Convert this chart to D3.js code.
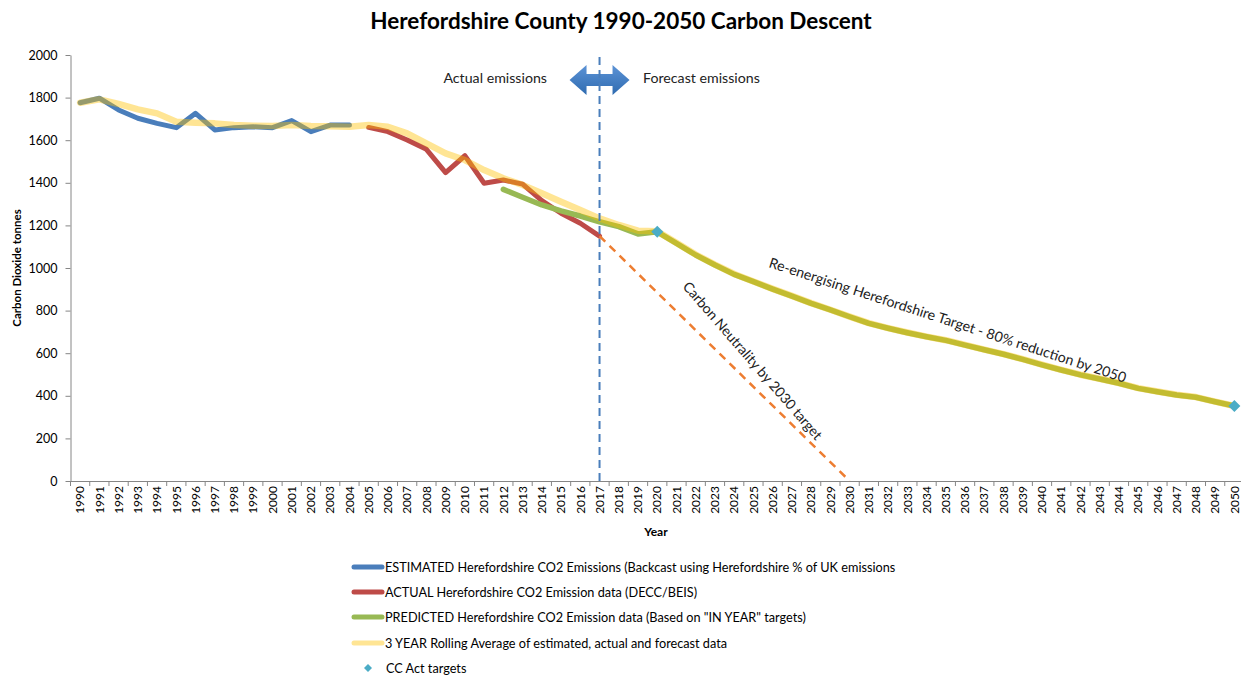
<!DOCTYPE html>
<html>
<head>
<meta charset="utf-8">
<script src="https://cdn.jsdelivr.net/npm/d3@7"></script>
<style>
  body { margin: 0; background: #fff; }
  svg { display: block; font-family: Lato, "Open Sans", sans-serif; }
  .axis path, .axis line { stroke: #868686; }
  .axis text { fill: #000; font-size: 12px; font-family: Lato, sans-serif; }
</style>
</head>
<body>
<div id="chart"></div>
<script>
// categories
const years = [
    1990, 1991, 1992, 1993, 1994, 1995, 1996, 1997, 1998, 1999,
    2000, 2001, 2002, 2003, 2004, 2005, 2006, 2007, 2008, 2009,
    2010, 2011, 2012, 2013, 2014, 2015, 2016, 2017, 2018, 2019,
    2020, 2021, 2022, 2023, 2024, 2025, 2026, 2027, 2028, 2029,
    2030, 2031, 2032, 2033, 2034, 2035, 2036, 2037, 2038, 2039,
    2040, 2041, 2042, 2043, 2044, 2045, 2046, 2047, 2048, 2049, 2050,
];
const yTicks = [0, 200, 400, 600, 800, 1000, 1200, 1400, 1600, 1800, 2000];

// ESTIMATED (backcast) 1990-2004
const estimatedStart = 1990;
const estimated = [1776, 1797, 1742, 1703, 1679, 1659, 1726, 1648, 1659, 1663, 1659, 1692, 1640, 1671, 1671];

// ACTUAL (DECC/BEIS) 2005-2017
const actualStart = 2005;
const actual = [1660, 1640, 1601, 1557, 1448, 1527, 1398, 1413, 1394, 1316, 1257, 1210, 1150];

// PREDICTED 2012-2050
const predictedStart = 2012;
const predicted = [
    1369, 1332, 1296, 1268, 1244, 1217, 1194, 1160,
    1170, 1116, 1061, 1014, 970, 936, 901, 868, 834, 803,
    771, 740, 717, 696, 677, 660, 638, 616, 595, 571,
    545, 521, 498, 479, 459, 435, 419, 404, 393, 372, 352,
];

// 3 YEAR rolling average 1990-2050
const rollingStart = 1990;
const rolling = [
    1776, 1792, 1770, 1745, 1726, 1687, 1682, 1679, 1671, 1668,
    1667, 1671, 1667, 1665, 1663, 1671, 1663, 1632, 1585, 1538,
    1507, 1460, 1421, 1390, 1351, 1311, 1272, 1233, 1202, 1175,
    1172, 1118, 1063, 1016, 972, 937, 902, 869, 835, 804,
    772, 741, 718, 697, 678, 661, 639, 617, 596, 572,
    546, 522, 499, 480, 460, 436, 420, 405, 394, 373, 352,
];

// CC Act targets
const targetYears = [2020, 2050];
const targetValues = [1170, 352];

// Carbon neutrality by 2030
const neutralYears = [2017, 2030];
const neutralValues = [1150, 0];

const forecastSplitYear = 2017;

const legendItems = [
    { label: 'ESTIMATED Herefordshire CO2 Emissions (Backcast using Herefordshire % of UK emissions', color: '#4A7EBB', type: 'line', opacity: 1 },
    { label: 'ACTUAL Herefordshire CO2 Emission data (DECC/BEIS)', color: '#BE4B48', type: 'line', opacity: 1 },
    { label: 'PREDICTED Herefordshire CO2 Emission data (Based on "IN YEAR" targets)', color: '#98B954', type: 'line', opacity: 1 },
    { label: '3 YEAR Rolling Average of estimated, actual and forecast data', color: '#FFC000', type: 'line', opacity: 0.42 },
    { label: 'CC Act targets', color: '#4BACC6', type: 'diamond', opacity: 1 },
];

const W = 1241, H = 675;
const svg = d3.select('#chart').append('svg').attr('width', W).attr('height', H);

const x = d3.scaleBand().domain(years).range([70.5, 1244]).padding(0);
const cx = d => x(d) + x.bandwidth() / 2;
const y = d3.scaleLinear().domain([0, 2000]).range([481, 55]);

function toPoints(start, values) {
    return values.map((v, i) => ({ year: start + i, value: v }));
}

// square diamond marker
function diamondPath(r) {
    return `M0,${-r} L${r},0 L0,${r} L${-r},0 Z`;
}

// title
svg.append('text')
    .attr('x', 621).attr('y', 29)
    .attr('text-anchor', 'middle')
    .style('font-size', '22.5px').style('font-weight', 'bold')
    .text('Herefordshire County 1990-2050 Carbon Descent');

// y axis
const yAxis = svg.append('g').attr('class', 'axis')
    .attr('transform', 'translate(70.5,0)')
    .call(d3.axisLeft(y).tickValues(yTicks).tickFormat(d3.format('d'))
        .tickSizeInner(5).tickSizeOuter(0).tickPadding(8));
yAxis.selectAll('text').style('font-size', '12.5px');

svg.append('text')
    .attr('transform', 'translate(21,268) rotate(-90)')
    .attr('text-anchor', 'middle')
    .style('font-size', '11.5px').style('font-weight', 'bold')
    .text('Carbon Dioxide tonnes');

// x axis
const xAxis = svg.append('g').attr('class', 'axis')
    .attr('transform', 'translate(0,481)')
    .call(d3.axisBottom(x).tickSizeInner(0).tickSizeOuter(0));
xAxis.selectAll('.tick text')
    .attr('transform', 'rotate(-90)')
    .attr('x', -5).attr('y', 0).attr('dy', '0.35em')
    .attr('text-anchor', 'end')
    .style('font-size', '12px');
xAxis.selectAll('line.edge')
    .data(years.concat(['end']))
    .enter().append('line')
    .attr('class', 'edge')
    .attr('x1', d => d === 'end' ? x.range()[1] : x(d))
    .attr('x2', d => d === 'end' ? x.range()[1] : x(d))
    .attr('y1', 0).attr('y2', 5)
    .attr('stroke', '#868686');

svg.append('text')
    .attr('x', 656).attr('y', 536)
    .attr('text-anchor', 'middle')
    .style('font-size', '12px').style('font-weight', 'bold')
    .text('Year');

// series
const line = d3.line().x(d => cx(d.year)).y(d => y(d.value));
const plot = svg.append('g');

function drawSeries(data, color, width, opacity) {
    plot.append('path')
        .datum(data)
        .attr('d', line)
        .attr('fill', 'none')
        .attr('stroke', color)
        .attr('stroke-width', width)
        .attr('stroke-opacity', opacity)
        .attr('stroke-linejoin', 'round')
        .attr('stroke-linecap', 'round');
}

drawSeries(toPoints(estimatedStart, estimated), '#4A7EBB', 5, 1);
drawSeries(toPoints(actualStart, actual), '#BE4B48', 5, 1);
drawSeries(toPoints(predictedStart, predicted), '#98B954', 5.5, 1);
drawSeries(toPoints(rollingStart, rolling), '#FFC000', 6.5, 0.42);

// carbon neutrality dashed line
plot.append('path')
    .datum(neutralYears.map((yr, i) => ({ year: yr, value: neutralValues[i] })))
    .attr('d', line)
    .attr('fill', 'none')
    .attr('stroke', '#ED7D31')
    .attr('stroke-width', 2.5)
    .attr('stroke-dasharray', '8,6');

// arrow between actual and forecast
const ax = cx(forecastSplitYear), ay = 80;
const grad = svg.append('defs').append('linearGradient')
    .attr('id', 'arrowGrad').attr('x1', 0).attr('y1', 0).attr('x2', 0).attr('y2', 1);
grad.append('stop').attr('offset', '0%').attr('stop-color', '#5C93D6');
grad.append('stop').attr('offset', '100%').attr('stop-color', '#2F6BB0');
const half = 30, head = 17, bodyH = 6, headH = 15;
svg.append('path')
    .attr('d', `M${ax - half},${ay} L${ax - half + head},${ay - headH} L${ax - half + head},${ay - bodyH}
        L${ax + half - head},${ay - bodyH} L${ax + half - head},${ay - headH} L${ax + half},${ay}
        L${ax + half - head},${ay + headH} L${ax + half - head},${ay + bodyH}
        L${ax - half + head},${ay + bodyH} L${ax - half + head},${ay + headH} Z`)
    .attr('fill', 'url(#arrowGrad)');

// vertical split line
svg.append('line')
    .attr('x1', ax).attr('x2', ax)
    .attr('y1', 57).attr('y2', 481)
    .attr('stroke', '#4A7EBB')
    .attr('stroke-width', 2)
    .attr('stroke-dasharray', '8,5');

svg.append('text')
    .attr('x', 547).attr('y', 83)
    .attr('text-anchor', 'end')
    .style('font-size', '14.2px').style('fill', '#222')
    .text('Actual emissions');
svg.append('text')
    .attr('x', 643).attr('y', 83)
    .style('font-size', '14.2px').style('fill', '#222')
    .text('Forecast emissions');

// CC Act target diamonds
plot.selectAll('path.target')
    .data(targetYears.map((yr, i) => ({ year: yr, value: targetValues[i] })))
    .enter().append('path')
    .attr('class', 'target')
    .attr('d', diamondPath(6))
    .attr('transform', d => `translate(${cx(d.year)},${y(d.value)})`)
    .attr('fill', '#4BACC6');

// annotations
svg.append('text')
    .attr('transform', 'translate(768,267) rotate(18)')
    .style('font-size', '14.2px').style('fill', '#222')
    .text('Re-energising Herefordshire Target - 80% reduction by 2050');
svg.append('text')
    .attr('transform', 'translate(682,287) rotate(49)')
    .style('font-size', '14px').style('fill', '#222')
    .text('Carbon Neutrality by 2030 target');

// legend
const legend = svg.append('g');
const rowY = [567, 592, 617, 643, 668];
legendItems.forEach((item, i) => {
    const g = legend.append('g').attr('transform', `translate(0,${rowY[i]})`);
    if (item.type === 'line') {
        g.append('line')
            .attr('x1', 354).attr('x2', 382).attr('y1', 0).attr('y2', 0)
            .attr('stroke', item.color)
            .attr('stroke-opacity', item.opacity)
            .attr('stroke-width', 5)
            .attr('stroke-linecap', 'round');
        g.append('text').attr('x', 385).attr('y', 4.5)
            .style('font-size', '12.7px').text(item.label);
    } else {
        g.append('path')
            .attr('d', diamondPath(4))
            .attr('transform', 'translate(368,0)')
            .attr('fill', item.color);
        g.append('text').attr('x', 386).attr('y', 4.5)
            .style('font-size', '12.7px').text(item.label);
    }
});
</script>
</body>
</html>
